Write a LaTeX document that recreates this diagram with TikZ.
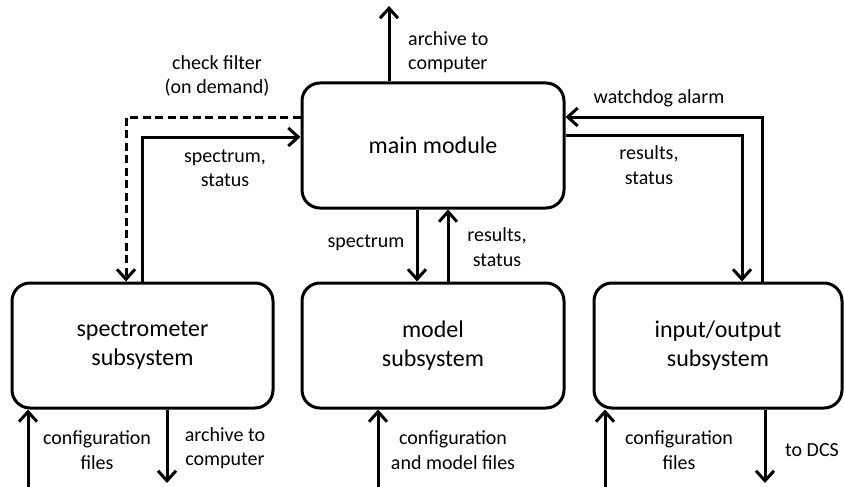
\documentclass[tikz,border=0pt]{standalone}
\usepackage{fontspec}
\setmainfont{Carlito}
\usetikzlibrary{arrows.meta}

\begin{document}
\begin{tikzpicture}[x=1pt,y=-1pt,
    box/.style={draw,line width=3pt,rounded corners=18pt,minimum height=125pt,
      align=center,font=\fontsize{24}{29.3}\selectfont},
    lbl/.style={align=center,font=\fontsize{20}{24.4}\selectfont,inner sep=0pt},
    arr/.style={line width=3pt,-{Straight Barb[length=10pt,width=18pt,line width=3pt]}},
    dashline/.style={dash pattern=on 8pt off 4.5pt}]
  \useasboundingbox (0,0) rectangle (844,487);

  % the four modules
  \node[box,minimum width=262pt] (main) at (433,145.5) {main module};
  \node[box,minimum width=261pt] (spec) at (142.5,345.5) {spectrometer\\subsystem};
  \node[box,minimum width=262pt] (model) at (433,345.5) {model\\subsystem};
  \node[box,minimum width=248pt] (io) at (718,345.5) {input/output\\subsystem};

  % free ends at the border
  \coordinate (archtop) at (389,6);
  \coordinate (speccfg) at (28,487);
  \coordinate (specarch) at (167,483);
  \coordinate (modelcfg) at (378,487);
  \coordinate (iocfg) at (605,487);
  \coordinate (iodcs) at (765,483);

  % links between the modules
  \draw[arr] (main.north -| archtop) -- (archtop);
  \draw[arr,dashline] (main.west |- 0,117) -| (spec.north -| 126,0);
  \draw[arr] (spec.north -| 142,0) |- (main.west |- 0,137);
  \draw[arr] (main.south -| 417,0) -- (model.north -| 417,0);
  \draw[arr] (model.north -| 448,0) -- (main.south -| 448,0);
  \draw[arr] (io.north -| 762,0) |- (main.east |- 0,117);
  \draw[arr] (main.east |- 0,135) -| (io.north -| 742,0);

  % inputs and outputs at the bottom
  \draw[arr] (speccfg) -- (spec.south -| speccfg);
  \draw[arr] (spec.south -| specarch) -- (specarch);
  \draw[arr] (modelcfg) -- (model.south -| modelcfg);
  \draw[arr] (iocfg) -- (io.south -| iocfg);
  \draw[arr] (io.south -| iodcs) -- (iodcs);

  % labels
  \node[lbl,anchor=west,align=left] (larch) at (408,52) {archive to\\computer};
  \node[lbl] (lcheck) at (217,76) {check filter\\(on demand)};
  \node[lbl] (lspecstat) at (225,168) {spectrum,\\status};
  \node[lbl] (lspec) at (366,243) {spectrum};
  \node[lbl] (lres) at (497,247) {results,\\status};
  \node[lbl] (lwatch) at (659,98) {watchdog alarm};
  \node[lbl] (lresio) at (649,165) {results,\\status};
  \node[lbl] (lspeccfg) at (97,450) {configuration\\files};
  \node[lbl] (lspecarch) at (225,448) {archive to\\computer};
  \node[lbl] (lmodelcfg) at (453,450) {configuration\\and model files};
  \node[lbl] (liocfg) at (679,450) {configuration\\files};
  \node[lbl] (ldcs) at (812,450) {to DCS};
\end{tikzpicture}
\end{document}
